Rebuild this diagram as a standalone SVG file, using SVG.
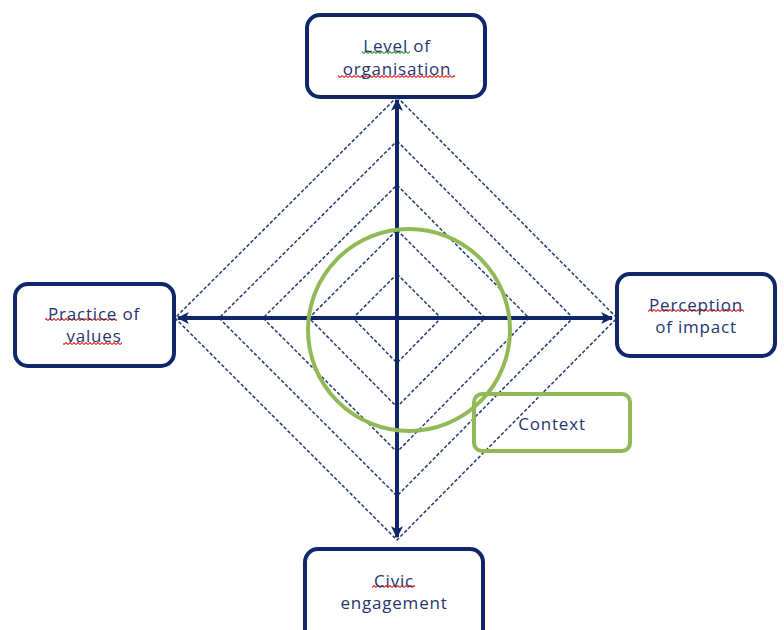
<svg xmlns="http://www.w3.org/2000/svg" width="784" height="630" viewBox="0 0 784 630">
<style>
.box{fill:#fff;stroke:#10266a;stroke-width:4}
.ctx{fill:none;stroke:#93b957;stroke-width:4}
.dia{fill:none;stroke:#223b76;stroke-width:1.5;stroke-dasharray:3.5 2}
.axis{stroke:#10266a;stroke-width:4;fill:none}
.t{font-family:"Open Sans","Noto Sans",sans-serif;font-size:17px;fill:#1f3670;text-anchor:middle;letter-spacing:0.8px}
.sqr{fill:url(#sqr)}
.sqg{fill:url(#sqg)}
</style>
<defs>
<marker id="ah" viewBox="0 0 10 10" refX="9" refY="5" markerWidth="3" markerHeight="3" orient="auto" markerUnits="strokeWidth">
<path d="M0,0 L10,5 L0,10 L2.5,5 z" fill="#10266a"/>
</marker>
<pattern id="sqr" width="4" height="3" patternUnits="userSpaceOnUse">
<path d="M0,2.5 L2,0.5 L4,2.5" fill="none" stroke="#e53030" stroke-width="1.1"/>
</pattern>
<pattern id="sqg" width="4" height="3" patternUnits="userSpaceOnUse">
<path d="M0,2.5 L2,0.5 L4,2.5" fill="none" stroke="#3aa040" stroke-width="1.1"/>
</pattern>
</defs>
<rect width="784" height="630" fill="#fff"/>
<g id="grid">
<polygon class="dia" points="397,97 617,318 397,540 175,318"/>
<polygon class="dia" points="397,141 573,318 397,496 219,318"/>
<polygon class="dia" points="397,185 529,318 397,452 263,318"/>
<polygon class="dia" points="397,230 485,318 397,407 309,318"/>
<polygon class="dia" points="397,274 441,318 397,363 353,318"/>
</g>
<g id="connectors">
<line class="axis" x1="397" y1="318" x2="397" y2="100" marker-end="url(#ah)"/>
<line class="axis" x1="397" y1="318" x2="397" y2="537" marker-end="url(#ah)"/>
<line class="axis" x1="397" y1="318" x2="178" y2="318" marker-end="url(#ah)"/>
<line class="axis" x1="397" y1="318" x2="612" y2="318" marker-end="url(#ah)"/>
</g>
<g id="context-circle">
<circle cx="409" cy="330" r="101" class="ctx"/>
</g>
<g id="level">
<rect class="box" x="307" y="15" width="178" height="82" rx="13"/>
<rect class="sqg" x="362" y="51" width="48" height="3"/>
<rect class="sqr" x="338" y="75" width="117" height="3"/>
<text class="t" x="397" y="52">Level of</text>
<text class="t" x="397" y="75">organisation</text>
</g>
<g id="perception">
<rect class="box" x="617" y="274" width="158" height="82" rx="13"/>
<rect class="sqr" x="648" y="309" width="96" height="3"/>
<text class="t" x="696" y="311">Perception</text>
<text class="t" x="696" y="333">of impact</text>
</g>
<g id="practice">
<rect class="box" x="15" y="284" width="159" height="82" rx="13"/>
<rect class="sqr" x="45" y="318" width="72" height="3"/>
<rect class="sqr" x="63" y="342" width="59" height="3"/>
<text class="t" x="94" y="320">Practice of</text>
<text class="t" x="94" y="342">values</text>
</g>
<g id="civic">
<rect class="box" x="305" y="549" width="178" height="100" rx="13"/>
<rect class="sqr" x="372" y="585" width="43" height="3"/>
<text class="t" x="394" y="587">Civic</text>
<text class="t" x="394" y="609">engagement</text>
</g>
<g id="context">
<rect class="ctx" x="474" y="394" width="156" height="57" rx="8"/>
<text class="t" x="552" y="430">Context</text>
</g>
</svg>
